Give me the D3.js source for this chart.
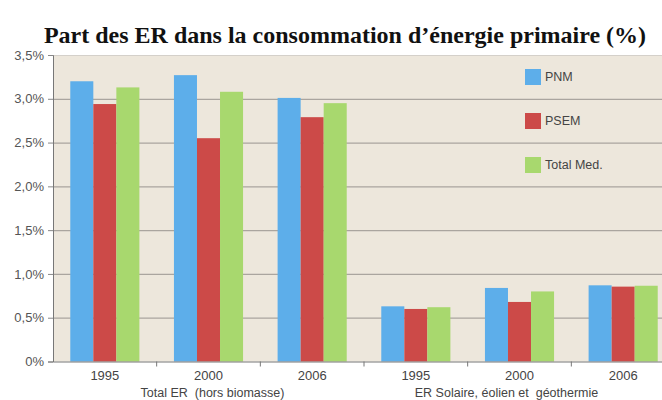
<!DOCTYPE html>
<html>
<head>
<meta charset="utf-8">
<script src="https://cdn.jsdelivr.net/npm/d3@7"></script>
<style>
  body { margin: 0; background: #fff; }
  svg { display: block; }
</style>
</head>
<body>
<svg width="662" height="400"></svg>
<script>
const years = ['1995', '2000', '2006']
const groups = ['Total ER  (hors biomasse)', 'ER Solaire, éolien et  géothermie']
const series = ['PNM', 'PSEM', 'Total Med.']
const pnm = [3.20, 3.27, 3.01, 0.63, 0.84, 0.87]
const psem = [2.94, 2.55, 2.79, 0.60, 0.68, 0.855]
const totalMed = [3.13, 3.08, 2.95, 0.62, 0.80, 0.865]
const yTicks = [0, 0.5, 1, 1.5, 2, 2.5, 3, 3.5]
const colors = ['#5daeea', '#cc4a48', '#a8d86e']

const margin = {top: 55, left: 53, bottom: 361.5}
const plotRight = 675

const cats = d3.range(6)
const values = [pnm, psem, totalMed]
const rows = cats.map(i => ({i, vals: values.map((s, k) => ({k, v: s[i]}))}))

const svg = d3.select('svg')

const x0 = d3.scaleBand()
  .domain(cats)
  .range([margin.left, plotRight])
  .padding(0)

const x1 = d3.scaleBand()
  .domain(d3.range(series.length))
  .range([0, x0.bandwidth()])
  .paddingInner(0)
  .paddingOuter(0.75)

const y = d3.scaleLinear()
  .domain([0, 3.5])
  .range([margin.bottom, margin.top])

const fmt = d => d === 0 ? '0%' : d3.format('.1f')(d).replace('.', ',') + '%'

// plot background
svg.append('rect')
  .attr('x', margin.left)
  .attr('y', y(3.5))
  .attr('width', plotRight - margin.left)
  .attr('height', y(0) - y(3.5))
  .attr('fill', '#ede7dc')

// grid
svg.append('g')
  .selectAll('line')
  .data(yTicks.filter(d => d > 0))
  .join('line')
  .attr('x1', margin.left)
  .attr('x2', plotRight)
  .attr('y1', d => y(d) + 0.5)
  .attr('y2', d => y(d) + 0.5)
  .attr('stroke', d => d === 3.5 ? '#d4d0ca' : '#aaa59f')
  .attr('stroke-width', 1.2)

// bars
svg.append('g')
  .selectAll('g')
  .data(rows)
  .join('g')
  .attr('transform', d => `translate(${x0(d.i)},0)`)
  .selectAll('rect')
  .data(d => d.vals)
  .join('rect')
  .attr('x', d => x1(d.k))
  .attr('y', d => y(d.v))
  .attr('width', x1.bandwidth())
  .attr('height', d => y(0) - y(d.v))
  .attr('fill', d => colors[d.k])

// y axis
const yAxis = svg.append('g')
  .attr('transform', `translate(${margin.left},0)`)
  .call(d3.axisLeft(y).tickValues(yTicks).tickFormat(fmt).tickSize(5).tickPadding(4))
yAxis.select('.domain').attr('stroke', '#777')
yAxis.selectAll('.tick line').attr('stroke', '#888')
yAxis.selectAll('text')
  .attr('fill', '#555')
  .style('font', '13px "Liberation Sans", Arial, sans-serif')

// x axis
const xAxis = svg.append('g')
  .attr('transform', `translate(0,${y(0)})`)
  .call(d3.axisBottom(x0).tickSize(0).tickPadding(9).tickFormat(i => years[i % 3]))
xAxis.select('.domain').attr('stroke', '#777')
xAxis.selectAll('text')
  .attr('fill', '#444')
  .style('font', '13px "Liberation Sans", Arial, sans-serif')

svg.append('g')
  .selectAll('line')
  .data(cats.slice(1))
  .join('line')
  .attr('x1', d => x0(d))
  .attr('x2', d => x0(d))
  .attr('y1', y(0))
  .attr('y2', y(0) + 5)
  .attr('stroke', '#777')

// group labels
svg.append('g')
  .selectAll('text')
  .data(groups)
  .join('text')
  .attr('x', (d, g) => x0(g * 3 + 1) + x0.bandwidth() / 2 + (g ? -13 : 4))
  .attr('y', 397)
  .attr('text-anchor', 'middle')
  .attr('fill', '#444')
  .style('white-space', 'pre')
  .style('font', '12.5px "Liberation Sans", Arial, sans-serif')
  .text(d => d)

// legend
const legend = svg.append('g')
  .selectAll('g')
  .data(series)
  .join('g')
  .attr('transform', (d, i) => `translate(525,${69 + i * 44})`)
legend.append('rect')
  .attr('width', 16)
  .attr('height', 16)
  .attr('fill', (d, i) => colors[i])
legend.append('text')
  .attr('x', 20)
  .attr('y', 8)
  .attr('dy', '0.35em')
  .attr('fill', '#444')
  .style('font', '12.5px "Liberation Sans", Arial, sans-serif')
  .text(d => d)

// title
svg.append('text')
  .attr('x', 345)
  .attr('y', 43)
  .attr('text-anchor', 'middle')
  .attr('fill', '#111')
  .style('font', 'bold 24px "Liberation Serif", "Times New Roman", serif')
  .text('Part des ER dans la consommation d’énergie primaire (%)')
</script>
</body>
</html>
